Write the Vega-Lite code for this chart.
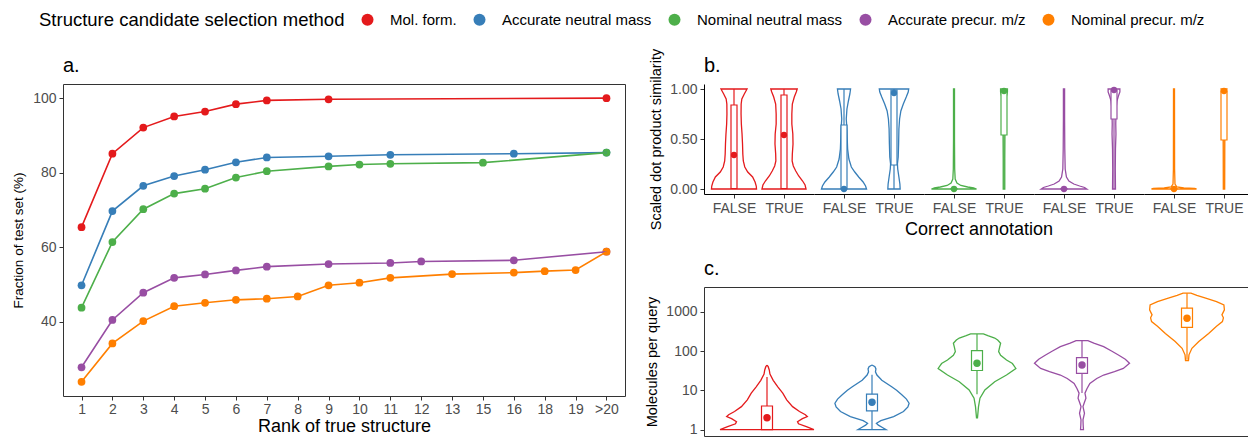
{
"$schema": "https://vega.github.io/schema/vega-lite/v6.json",
"padding": {"left": 11, "top": 12, "right": 0, "bottom": 0},
"config": {
 "font": "Liberation Sans",
 "view": {"stroke": "#333333", "strokeWidth": 1},
 "axis": {"grid": false, "labelColor": "#4D4D4D", "labelFontSize": 14, "labelPadding": 3, "tickColor": "#333333", "tickSize": 4, "tickWidth": 1, "titleColor": "#000000", "titleFontWeight": "normal", "domainColor": "#000000", "domainWidth": 1},
 "title": {"anchor": "start", "frame": "group", "fontSize": 20, "fontWeight": "normal", "offset": 8, "color": "#000000"}
},
"datasets": {
 "ra": [
  {"m":"Mol. form.","r":"1","f":65.4},{"m":"Mol. form.","r":"2","f":85.1},{"m":"Mol. form.","r":"3","f":92.1},{"m":"Mol. form.","r":"4","f":95.1},{"m":"Mol. form.","r":"5","f":96.4},{"m":"Mol. form.","r":"6","f":98.4},{"m":"Mol. form.","r":"7","f":99.4},{"m":"Mol. form.","r":"9","f":99.7},{"m":"Mol. form.","r":">20","f":100.0},
  {"m":"Accurate neutral mass","r":"1","f":49.8},{"m":"Accurate neutral mass","r":"2","f":69.7},{"m":"Accurate neutral mass","r":"3","f":76.5},{"m":"Accurate neutral mass","r":"4","f":79.1},{"m":"Accurate neutral mass","r":"5","f":80.8},{"m":"Accurate neutral mass","r":"6","f":82.8},{"m":"Accurate neutral mass","r":"7","f":84.1},{"m":"Accurate neutral mass","r":"9","f":84.4},{"m":"Accurate neutral mass","r":"11","f":84.8},{"m":"Accurate neutral mass","r":"16","f":85.1},{"m":"Accurate neutral mass","r":">20","f":85.4},
  {"m":"Nominal neutral mass","r":"1","f":43.8},{"m":"Nominal neutral mass","r":"2","f":61.4},{"m":"Nominal neutral mass","r":"3","f":70.2},{"m":"Nominal neutral mass","r":"4","f":74.4},{"m":"Nominal neutral mass","r":"5","f":75.7},{"m":"Nominal neutral mass","r":"6","f":78.7},{"m":"Nominal neutral mass","r":"7","f":80.4},{"m":"Nominal neutral mass","r":"9","f":81.7},{"m":"Nominal neutral mass","r":"10","f":82.2},{"m":"Nominal neutral mass","r":"11","f":82.4},{"m":"Nominal neutral mass","r":"15","f":82.7},{"m":"Nominal neutral mass","r":">20","f":85.4},
  {"m":"Accurate precur. m/z","r":"1","f":27.8},{"m":"Accurate precur. m/z","r":"2","f":40.5},{"m":"Accurate precur. m/z","r":"3","f":47.8},{"m":"Accurate precur. m/z","r":"4","f":51.8},{"m":"Accurate precur. m/z","r":"5","f":52.7},{"m":"Accurate precur. m/z","r":"6","f":53.8},{"m":"Accurate precur. m/z","r":"7","f":54.8},{"m":"Accurate precur. m/z","r":"9","f":55.5},{"m":"Accurate precur. m/z","r":"11","f":55.8},{"m":"Accurate precur. m/z","r":"12","f":56.2},{"m":"Accurate precur. m/z","r":"16","f":56.5},{"m":"Accurate precur. m/z","r":">20","f":58.8},
  {"m":"Nominal precur. m/z","r":"1","f":23.9},{"m":"Nominal precur. m/z","r":"2","f":34.2},{"m":"Nominal precur. m/z","r":"3","f":40.2},{"m":"Nominal precur. m/z","r":"4","f":44.2},{"m":"Nominal precur. m/z","r":"5","f":45.1},{"m":"Nominal precur. m/z","r":"6","f":45.9},{"m":"Nominal precur. m/z","r":"7","f":46.2},{"m":"Nominal precur. m/z","r":"8","f":46.8},{"m":"Nominal precur. m/z","r":"9","f":49.8},{"m":"Nominal precur. m/z","r":"10","f":50.5},{"m":"Nominal precur. m/z","r":"11","f":51.8},{"m":"Nominal precur. m/z","r":"13","f":52.8},{"m":"Nominal precur. m/z","r":"16","f":53.2},{"m":"Nominal precur. m/z","r":"18","f":53.6},{"m":"Nominal precur. m/z","r":"19","f":53.9},{"m":"Nominal precur. m/z","r":">20","f":58.8}
 ],
 "vb": [
  {"m":"Mol. form.","a":"FALSE","v":0,"w":0},{"m":"Mol. form.","a":"FALSE","v":0,"w":23},{"m":"Mol. form.","a":"FALSE","v":0.03,"w":22.7},{"m":"Mol. form.","a":"FALSE","v":0.07,"w":21.5},{"m":"Mol. form.","a":"FALSE","v":0.12,"w":19},{"m":"Mol. form.","a":"FALSE","v":0.17,"w":14},{"m":"Mol. form.","a":"FALSE","v":0.22,"w":11},{"m":"Mol. form.","a":"FALSE","v":0.28,"w":9.5},{"m":"Mol. form.","a":"FALSE","v":0.35,"w":9},{"m":"Mol. form.","a":"FALSE","v":0.45,"w":8.7},{"m":"Mol. form.","a":"FALSE","v":0.55,"w":8.2},{"m":"Mol. form.","a":"FALSE","v":0.65,"w":7.5},{"m":"Mol. form.","a":"FALSE","v":0.75,"w":7.2},{"m":"Mol. form.","a":"FALSE","v":0.85,"w":7.3},{"m":"Mol. form.","a":"FALSE","v":0.9,"w":8},{"m":"Mol. form.","a":"FALSE","v":0.95,"w":10.5},{"m":"Mol. form.","a":"FALSE","v":1,"w":13.3},{"m":"Mol. form.","a":"FALSE","v":1,"w":0},
  {"m":"Mol. form.","a":"TRUE","v":0,"w":0},{"m":"Mol. form.","a":"TRUE","v":0,"w":22.5},{"m":"Mol. form.","a":"TRUE","v":0.04,"w":21.5},{"m":"Mol. form.","a":"TRUE","v":0.08,"w":19},{"m":"Mol. form.","a":"TRUE","v":0.13,"w":15},{"m":"Mol. form.","a":"TRUE","v":0.18,"w":12},{"m":"Mol. form.","a":"TRUE","v":0.23,"w":9.5},{"m":"Mol. form.","a":"TRUE","v":0.28,"w":8.3},{"m":"Mol. form.","a":"TRUE","v":0.35,"w":8.5},{"m":"Mol. form.","a":"TRUE","v":0.45,"w":9.2},{"m":"Mol. form.","a":"TRUE","v":0.55,"w":9},{"m":"Mol. form.","a":"TRUE","v":0.65,"w":8},{"m":"Mol. form.","a":"TRUE","v":0.75,"w":8},{"m":"Mol. form.","a":"TRUE","v":0.85,"w":8.5},{"m":"Mol. form.","a":"TRUE","v":0.92,"w":10.5},{"m":"Mol. form.","a":"TRUE","v":0.97,"w":12.5},{"m":"Mol. form.","a":"TRUE","v":1,"w":13.5},{"m":"Mol. form.","a":"TRUE","v":1,"w":0},
  {"m":"Accurate neutral mass","a":"FALSE","v":0,"w":0},{"m":"Accurate neutral mass","a":"FALSE","v":0,"w":23},{"m":"Accurate neutral mass","a":"FALSE","v":0.03,"w":22},{"m":"Accurate neutral mass","a":"FALSE","v":0.07,"w":19.5},{"m":"Accurate neutral mass","a":"FALSE","v":0.12,"w":15},{"m":"Accurate neutral mass","a":"FALSE","v":0.17,"w":11},{"m":"Accurate neutral mass","a":"FALSE","v":0.22,"w":7.5},{"m":"Accurate neutral mass","a":"FALSE","v":0.3,"w":5},{"m":"Accurate neutral mass","a":"FALSE","v":0.4,"w":3.7},{"m":"Accurate neutral mass","a":"FALSE","v":0.5,"w":3.3},{"m":"Accurate neutral mass","a":"FALSE","v":0.6,"w":3},{"m":"Accurate neutral mass","a":"FALSE","v":0.7,"w":2.3},{"m":"Accurate neutral mass","a":"FALSE","v":0.8,"w":3},{"m":"Accurate neutral mass","a":"FALSE","v":0.88,"w":4.5},{"m":"Accurate neutral mass","a":"FALSE","v":0.95,"w":6},{"m":"Accurate neutral mass","a":"FALSE","v":1,"w":6.7},{"m":"Accurate neutral mass","a":"FALSE","v":1,"w":0},
  {"m":"Accurate neutral mass","a":"TRUE","v":0,"w":0},{"m":"Accurate neutral mass","a":"TRUE","v":0,"w":6.3},{"m":"Accurate neutral mass","a":"TRUE","v":0.05,"w":6},{"m":"Accurate neutral mass","a":"TRUE","v":0.12,"w":5},{"m":"Accurate neutral mass","a":"TRUE","v":0.2,"w":3.8},{"m":"Accurate neutral mass","a":"TRUE","v":0.25,"w":3.5},{"m":"Accurate neutral mass","a":"TRUE","v":0.32,"w":4.3},{"m":"Accurate neutral mass","a":"TRUE","v":0.45,"w":4.7},{"m":"Accurate neutral mass","a":"TRUE","v":0.6,"w":5},{"m":"Accurate neutral mass","a":"TRUE","v":0.7,"w":5.7},{"m":"Accurate neutral mass","a":"TRUE","v":0.78,"w":7},{"m":"Accurate neutral mass","a":"TRUE","v":0.85,"w":9.5},{"m":"Accurate neutral mass","a":"TRUE","v":0.92,"w":12.5},{"m":"Accurate neutral mass","a":"TRUE","v":0.97,"w":14.5},{"m":"Accurate neutral mass","a":"TRUE","v":1,"w":15},{"m":"Accurate neutral mass","a":"TRUE","v":1,"w":0},
  {"m":"Nominal neutral mass","a":"FALSE","v":0,"w":0},{"m":"Nominal neutral mass","a":"FALSE","v":0,"w":23},{"m":"Nominal neutral mass","a":"FALSE","v":0.01,"w":20},{"m":"Nominal neutral mass","a":"FALSE","v":0.02,"w":14},{"m":"Nominal neutral mass","a":"FALSE","v":0.035,"w":7},{"m":"Nominal neutral mass","a":"FALSE","v":0.06,"w":3},{"m":"Nominal neutral mass","a":"FALSE","v":0.1,"w":1.2},{"m":"Nominal neutral mass","a":"FALSE","v":0.2,"w":0.7},{"m":"Nominal neutral mass","a":"FALSE","v":0.5,"w":0.5},{"m":"Nominal neutral mass","a":"FALSE","v":1,"w":0.5},{"m":"Nominal neutral mass","a":"FALSE","v":1,"w":0},
  {"m":"Nominal neutral mass","a":"TRUE","v":0,"w":0},{"m":"Nominal neutral mass","a":"TRUE","v":0,"w":0.8},{"m":"Nominal neutral mass","a":"TRUE","v":0.3,"w":0.8},{"m":"Nominal neutral mass","a":"TRUE","v":0.6,"w":1},{"m":"Nominal neutral mass","a":"TRUE","v":0.85,"w":1.5},{"m":"Nominal neutral mass","a":"TRUE","v":0.93,"w":2.5},{"m":"Nominal neutral mass","a":"TRUE","v":0.97,"w":3.5},{"m":"Nominal neutral mass","a":"TRUE","v":1,"w":3.5},{"m":"Nominal neutral mass","a":"TRUE","v":1,"w":0},
  {"m":"Accurate precur. m/z","a":"FALSE","v":0,"w":0},{"m":"Accurate precur. m/z","a":"FALSE","v":0,"w":23.3},{"m":"Accurate precur. m/z","a":"FALSE","v":0.015,"w":21},{"m":"Accurate precur. m/z","a":"FALSE","v":0.03,"w":16},{"m":"Accurate precur. m/z","a":"FALSE","v":0.05,"w":10},{"m":"Accurate precur. m/z","a":"FALSE","v":0.08,"w":5},{"m":"Accurate precur. m/z","a":"FALSE","v":0.12,"w":2.5},{"m":"Accurate precur. m/z","a":"FALSE","v":0.2,"w":1.2},{"m":"Accurate precur. m/z","a":"FALSE","v":0.4,"w":0.8},{"m":"Accurate precur. m/z","a":"FALSE","v":0.7,"w":0.6},{"m":"Accurate precur. m/z","a":"FALSE","v":1,"w":0.6},{"m":"Accurate precur. m/z","a":"FALSE","v":1,"w":0},
  {"m":"Accurate precur. m/z","a":"TRUE","v":0,"w":0},{"m":"Accurate precur. m/z","a":"TRUE","v":0,"w":1.5},{"m":"Accurate precur. m/z","a":"TRUE","v":0.2,"w":1.3},{"m":"Accurate precur. m/z","a":"TRUE","v":0.4,"w":1.5},{"m":"Accurate precur. m/z","a":"TRUE","v":0.55,"w":2},{"m":"Accurate precur. m/z","a":"TRUE","v":0.65,"w":1.8},{"m":"Accurate precur. m/z","a":"TRUE","v":0.75,"w":2},{"m":"Accurate precur. m/z","a":"TRUE","v":0.82,"w":2.3},{"m":"Accurate precur. m/z","a":"TRUE","v":0.88,"w":3},{"m":"Accurate precur. m/z","a":"TRUE","v":0.93,"w":4.5},{"m":"Accurate precur. m/z","a":"TRUE","v":0.97,"w":6},{"m":"Accurate precur. m/z","a":"TRUE","v":1,"w":6},{"m":"Accurate precur. m/z","a":"TRUE","v":1,"w":0},
  {"m":"Nominal precur. m/z","a":"FALSE","v":0,"w":0},{"m":"Nominal precur. m/z","a":"FALSE","v":0,"w":23},{"m":"Nominal precur. m/z","a":"FALSE","v":0.005,"w":21},{"m":"Nominal precur. m/z","a":"FALSE","v":0.01,"w":10},{"m":"Nominal precur. m/z","a":"FALSE","v":0.02,"w":3},{"m":"Nominal precur. m/z","a":"FALSE","v":0.05,"w":1},{"m":"Nominal precur. m/z","a":"FALSE","v":0.2,"w":0.6},{"m":"Nominal precur. m/z","a":"FALSE","v":1,"w":0.5},{"m":"Nominal precur. m/z","a":"FALSE","v":1,"w":0},
  {"m":"Nominal precur. m/z","a":"TRUE","v":0,"w":0},{"m":"Nominal precur. m/z","a":"TRUE","v":0,"w":0.7},{"m":"Nominal precur. m/z","a":"TRUE","v":0.4,"w":0.8},{"m":"Nominal precur. m/z","a":"TRUE","v":0.7,"w":1},{"m":"Nominal precur. m/z","a":"TRUE","v":0.9,"w":1.5},{"m":"Nominal precur. m/z","a":"TRUE","v":0.96,"w":2.5},{"m":"Nominal precur. m/z","a":"TRUE","v":1,"w":3},{"m":"Nominal precur. m/z","a":"TRUE","v":1,"w":0},
  {"m":"Mol. form.","a":"FALSE","lo":0,"q1":0.005,"md":0.34,"q3":0.84,"hi":1},
  {"m":"Mol. form.","a":"TRUE","lo":0,"q1":0.005,"md":0.54,"q3":0.94,"hi":1},
  {"m":"Accurate neutral mass","a":"FALSE","lo":0,"q1":0.002,"md":0.0,"q3":0.64,"hi":1},
  {"m":"Accurate neutral mass","a":"TRUE","lo":0,"q1":0.24,"md":0.96,"q3":0.99,"hi":1},
  {"m":"Nominal neutral mass","a":"FALSE","lo":0,"q1":0,"md":0,"q3":0.005,"hi":0.02},
  {"m":"Nominal neutral mass","a":"TRUE","lo":0,"q1":0.54,"md":0.98,"q3":0.985,"hi":1},
  {"m":"Accurate precur. m/z","a":"FALSE","lo":0,"q1":0,"md":0,"q3":0.005,"hi":0.02},
  {"m":"Accurate precur. m/z","a":"TRUE","lo":0,"q1":0.7,"md":0.99,"q3":0.99,"hi":1},
  {"m":"Nominal precur. m/z","a":"FALSE","lo":0,"q1":0,"md":0,"q3":0.003,"hi":0.01},
  {"m":"Nominal precur. m/z","a":"TRUE","lo":0,"q1":0.49,"md":0.98,"q3":0.98,"hi":1}
 ],
 "vc": [
  {"m":"Mol. form.","v":1,"w":0},{"m":"Mol. form.","v":1,"w":47.7},{"m":"Mol. form.","v":1.19,"w":40},{"m":"Mol. form.","v":1.41,"w":32},{"m":"Mol. form.","v":1.6,"w":31},{"m":"Mol. form.","v":1.9,"w":36},{"m":"Mol. form.","v":2.15,"w":41},{"m":"Mol. form.","v":2.4,"w":39},{"m":"Mol. form.","v":2.9,"w":33},{"m":"Mol. form.","v":3.85,"w":26},{"m":"Mol. form.","v":5.7,"w":20},{"m":"Mol. form.","v":8.5,"w":16},{"m":"Mol. form.","v":12.3,"w":11},{"m":"Mol. form.","v":18,"w":6.3},{"m":"Mol. form.","v":26,"w":3},{"m":"Mol. form.","v":33,"w":2.3},{"m":"Mol. form.","v":40,"w":1.2},{"m":"Mol. form.","v":44,"w":0},
  {"m":"Accurate neutral mass","v":1,"w":0},{"m":"Accurate neutral mass","v":1,"w":14.3},{"m":"Accurate neutral mass","v":1.12,"w":11},{"m":"Accurate neutral mass","v":1.3,"w":6.5},{"m":"Accurate neutral mass","v":1.45,"w":4.5},{"m":"Accurate neutral mass","v":1.7,"w":9},{"m":"Accurate neutral mass","v":2.15,"w":22},{"m":"Accurate neutral mass","v":2.9,"w":32},{"m":"Accurate neutral mass","v":3.8,"w":36.5},{"m":"Accurate neutral mass","v":4.7,"w":37.7},{"m":"Accurate neutral mass","v":6,"w":35},{"m":"Accurate neutral mass","v":7.8,"w":30},{"m":"Accurate neutral mass","v":10,"w":25},{"m":"Accurate neutral mass","v":12.3,"w":20},{"m":"Accurate neutral mass","v":18,"w":10},{"m":"Accurate neutral mass","v":24.5,"w":5},{"m":"Accurate neutral mass","v":29.5,"w":3.5},{"m":"Accurate neutral mass","v":35,"w":4},{"m":"Accurate neutral mass","v":40,"w":3},{"m":"Accurate neutral mass","v":44,"w":0},
  {"m":"Nominal neutral mass","v":2,"w":0},{"m":"Nominal neutral mass","v":2,"w":0.5},{"m":"Nominal neutral mass","v":3.8,"w":1.5},{"m":"Nominal neutral mass","v":6.3,"w":3},{"m":"Nominal neutral mass","v":10.2,"w":8},{"m":"Nominal neutral mass","v":16.6,"w":18},{"m":"Nominal neutral mass","v":24.5,"w":30},{"m":"Nominal neutral mass","v":36,"w":39.5},{"m":"Nominal neutral mass","v":48,"w":36},{"m":"Nominal neutral mass","v":59,"w":30},{"m":"Nominal neutral mass","v":78,"w":24},{"m":"Nominal neutral mass","v":97,"w":22},{"m":"Nominal neutral mass","v":125,"w":23},{"m":"Nominal neutral mass","v":158,"w":24},{"m":"Nominal neutral mass","v":190,"w":21},{"m":"Nominal neutral mass","v":214,"w":18},{"m":"Nominal neutral mass","v":245,"w":11},{"m":"Nominal neutral mass","v":272,"w":6.5},{"m":"Nominal neutral mass","v":272,"w":0},
  {"m":"Accurate precur. m/z","v":1,"w":0},{"m":"Accurate precur. m/z","v":1,"w":1.5},{"m":"Accurate precur. m/z","v":1.3,"w":1.2},{"m":"Accurate precur. m/z","v":1.78,"w":1},{"m":"Accurate precur. m/z","v":2.6,"w":2.5},{"m":"Accurate precur. m/z","v":3.85,"w":1},{"m":"Accurate precur. m/z","v":5,"w":2.5},{"m":"Accurate precur. m/z","v":6.3,"w":4},{"m":"Accurate precur. m/z","v":8.5,"w":3},{"m":"Accurate precur. m/z","v":11,"w":5},{"m":"Accurate precur. m/z","v":15,"w":8},{"m":"Accurate precur. m/z","v":20,"w":15},{"m":"Accurate precur. m/z","v":24.5,"w":22},{"m":"Accurate precur. m/z","v":30,"w":33},{"m":"Accurate precur. m/z","v":36,"w":42},{"m":"Accurate precur. m/z","v":49,"w":48.3},{"m":"Accurate precur. m/z","v":62,"w":44},{"m":"Accurate precur. m/z","v":79,"w":37},{"m":"Accurate precur. m/z","v":100,"w":30},{"m":"Accurate precur. m/z","v":129,"w":22},{"m":"Accurate precur. m/z","v":158,"w":12},{"m":"Accurate precur. m/z","v":184,"w":6},{"m":"Accurate precur. m/z","v":184,"w":0},
  {"m":"Nominal precur. m/z","v":57,"w":0},{"m":"Nominal precur. m/z","v":57,"w":1.5},{"m":"Nominal precur. m/z","v":80,"w":2},{"m":"Nominal precur. m/z","v":117,"w":5},{"m":"Nominal precur. m/z","v":174,"w":12},{"m":"Nominal precur. m/z","v":280,"w":22},{"m":"Nominal precur. m/z","v":427,"w":30},{"m":"Nominal precur. m/z","v":562,"w":36},{"m":"Nominal precur. m/z","v":700,"w":37},{"m":"Nominal precur. m/z","v":832,"w":35.5},{"m":"Nominal precur. m/z","v":1120,"w":38},{"m":"Nominal precur. m/z","v":1480,"w":37.5},{"m":"Nominal precur. m/z","v":1800,"w":30},{"m":"Nominal precur. m/z","v":2200,"w":19},{"m":"Nominal precur. m/z","v":2600,"w":10},{"m":"Nominal precur. m/z","v":2960,"w":4},{"m":"Nominal precur. m/z","v":2960,"w":0},
  {"m":"Mol. form.","lo":1,"q1":1,"md":2,"q3":4,"hi":22},
  {"m":"Accurate neutral mass","lo":1,"q1":3,"md":5,"q3":8,"hi":25},
  {"m":"Nominal neutral mass","lo":8,"q1":32,"md":49,"q3":102,"hi":272},
  {"m":"Accurate precur. m/z","lo":8.5,"q1":27,"md":44,"q3":68,"hi":184},
  {"m":"Nominal precur. m/z","lo":60,"q1":400,"md":684,"q3":1230,"hi":2960}
 ]
},
"resolve": {"scale": {"color": "shared"}},
"spacing": 18,
"hconcat": [
 {
  "title": "a.",
  "width": 562, "height": 312,
  "data": {"name": "ra"},
  "encoding": {
   "x": {"field": "r", "type": "ordinal", "scale": {"type": "point", "padding": 0.6, "domain": ["1","2","3","4","5","6","7","8","9","10","11","12","13","15","16","18","19",">20"]}, "sort": ["1","2","3","4","5","6","7","8","9","10","11","12","13","15","16","18","19",">20"], "axis": {"title": "Rank of true structure", "labelAngle": 0, "domain": false, "labelPadding": 2, "titleFontSize": 18, "titlePadding": 1}},
   "y": {"field": "f", "type": "quantitative", "scale": {"domain": [20.1, 103.8], "nice": false, "zero": false}, "axis": {"title": "Fraction of test set (%)", "values": [40, 60, 80, 100], "domain": false, "titleFontSize": 13.5, "titlePadding": 7}},
   "color": {"field": "m", "type": "nominal", "title": "Structure candidate selection method", "scale": {"domain": ["Mol. form.","Accurate neutral mass","Nominal neutral mass","Accurate precur. m/z","Nominal precur. m/z"], "range": ["#E41A1C","#377EB8","#4DAF4A","#984EA3","#FF7F00"]},
    "legend": {"orient": "none", "legendX": -24, "legendY": -72, "direction": "horizontal", "titleOrient": "left", "titleFontSize": 18.5, "titleFontWeight": "normal", "titleColor": "#000000", "titlePadding": 15, "titleLimit": 500, "labelLimit": 300, "labelFontSize": 15, "labelColor": "#000000", "labelOffset": 15, "columnPadding": 15, "symbolType": "circle", "symbolSize": 144, "symbolStrokeWidth": 0, "symbolOpacity": 1}}
  },
  "layer": [
   {"mark": {"type": "circle", "size": 60, "opacity": 1}},
   {"mark": {"type": "line", "strokeWidth": 1.6}}
  ]
 },
 {
  "spacing": 19,
  "vconcat": [
   {
    "title": {"text": "b.", "offset": -28},
    "data": {"name": "vb"},
    "facet": {"column": {"field": "m", "type": "nominal", "title": "Correct annotation", "sort": ["Mol. form.","Accurate neutral mass","Nominal neutral mass","Accurate precur. m/z","Nominal precur. m/z"], "header": {"labels": false, "labelOrient": "bottom", "labelPadding": 0, "titleOrient": "bottom", "titleFontSize": 18, "titleFontWeight": "normal", "titleColor": "#000000", "titlePadding": -4}}},
    "spacing": 0,
    "spec": {
     "width": 110, "height": 110,
     "view": {"stroke": null},
     "encoding": {
      "x": {"field": "a", "type": "nominal", "scale": {"type": "point", "padding": 0.6, "domain": ["FALSE","TRUE"]}, "axis": {"title": null, "labelAngle": 0}},
      "color": {"field": "m", "type": "nominal", "title": "Structure candidate selection method", "scale": {"domain": ["Mol. form.","Accurate neutral mass","Nominal neutral mass","Accurate precur. m/z","Nominal precur. m/z"], "range": ["#E41A1C","#377EB8","#4DAF4A","#984EA3","#FF7F00"]}}
     },
     "layer": [
      {"transform": [{"filter": "isValid(datum.w)"}], "mark": {"type": "line", "strokeWidth": 1.3},
       "encoding": {
        "y": {"field": "v", "type": "quantitative", "scale": {"domain": [-0.05, 1.05], "nice": false, "zero": false}, "axis": {"title": "Scaled dot product similarity", "values": [0, 0.25, 0.5, 0.75, 1], "format": ".2f", "titleFontSize": 14.5, "titlePadding": 6}},
        "xOffset": {"field": "w", "type": "quantitative", "scale": {"domain": [0, 25], "range": [0, 24.5]}},
        "detail": {"field": "a"},
        "order": {"value": null}
       }},
      {"transform": [{"filter": "isValid(datum.w)"}], "mark": {"type": "line", "strokeWidth": 1.3},
       "encoding": {
        "y": {"field": "v", "type": "quantitative"},
        "xOffset": {"field": "w", "type": "quantitative", "scale": {"domain": [0, 25], "range": [0, -24.5]}},
        "detail": {"field": "a"},
        "order": {"value": null}
       }},
      {"transform": [{"filter": "isValid(datum.lo)"}], "mark": {"type": "rule", "strokeWidth": 1.2},
       "encoding": {"y": {"field": "lo", "type": "quantitative"}, "y2": {"field": "hi"}}},
      {"transform": [{"filter": "isValid(datum.lo)"}], "mark": {"type": "bar", "width": 6, "fill": "white", "strokeWidth": 1.2},
       "encoding": {"y": {"field": "q1", "type": "quantitative"}, "y2": {"field": "q3"},
        "color": {"value": "white"},
        "stroke": {"field": "m", "type": "nominal", "legend": null, "scale": {"domain": ["Mol. form.","Accurate neutral mass","Nominal neutral mass","Accurate precur. m/z","Nominal precur. m/z"], "range": ["#E41A1C","#377EB8","#4DAF4A","#984EA3","#FF7F00"]}}}},
      {"transform": [{"filter": "isValid(datum.lo)"}], "mark": {"type": "circle", "size": 40, "opacity": 1},
       "encoding": {"y": {"field": "md", "type": "quantitative"}}}
     ],
     "resolve": {"scale": {"xOffset": "independent"}}
    }
   },
   {
    "title": "c.",
    "data": {"name": "vc"},
    "width": 546, "height": 149,
    "encoding": {
     "x": {"field": "m", "type": "nominal", "scale": {"type": "point", "padding": 0.6, "domain": ["Mol. form.","Accurate neutral mass","Nominal neutral mass","Accurate precur. m/z","Nominal precur. m/z"]}, "axis": null},
     "color": {"field": "m", "type": "nominal", "title": "Structure candidate selection method", "scale": {"domain": ["Mol. form.","Accurate neutral mass","Nominal neutral mass","Accurate precur. m/z","Nominal precur. m/z"], "range": ["#E41A1C","#377EB8","#4DAF4A","#984EA3","#FF7F00"]}}
    },
    "layer": [
     {"transform": [{"filter": "isValid(datum.w)"}], "mark": {"type": "line", "strokeWidth": 1.3},
      "encoding": {
       "y": {"field": "v", "type": "quantitative", "scale": {"type": "log", "domain": [0.69, 4250], "nice": false}, "axis": {"title": "Molecules per query", "values": [1, 10, 100, 1000], "format": "d", "domain": false, "titleFontSize": 14.5, "titlePadding": 6}},
       "xOffset": {"field": "w", "type": "quantitative", "scale": {"domain": [0, 50], "range": [0, 49.2]}},
       "order": {"value": null}
      }},
     {"transform": [{"filter": "isValid(datum.w)"}], "mark": {"type": "line", "strokeWidth": 1.3},
      "encoding": {
       "y": {"field": "v", "type": "quantitative"},
       "xOffset": {"field": "w", "type": "quantitative", "scale": {"domain": [0, 50], "range": [0, -49.2]}},
       "order": {"value": null}
      }},
     {"transform": [{"filter": "isValid(datum.lo)"}], "mark": {"type": "rule", "strokeWidth": 1.2},
      "encoding": {"y": {"field": "lo", "type": "quantitative"}, "y2": {"field": "hi"}}},
     {"transform": [{"filter": "isValid(datum.lo)"}], "mark": {"type": "bar", "width": 11, "fill": "white", "strokeWidth": 1.2},
      "encoding": {"y": {"field": "q1", "type": "quantitative"}, "y2": {"field": "q3"},
       "color": {"value": "white"},
       "stroke": {"field": "m", "type": "nominal", "legend": null, "scale": {"domain": ["Mol. form.","Accurate neutral mass","Nominal neutral mass","Accurate precur. m/z","Nominal precur. m/z"], "range": ["#E41A1C","#377EB8","#4DAF4A","#984EA3","#FF7F00"]}}}},
     {"transform": [{"filter": "isValid(datum.lo)"}], "mark": {"type": "circle", "size": 55, "opacity": 1},
      "encoding": {"y": {"field": "md", "type": "quantitative"}}}
    ],
    "resolve": {"scale": {"xOffset": "independent"}}
   }
  ]
 }
]
}
